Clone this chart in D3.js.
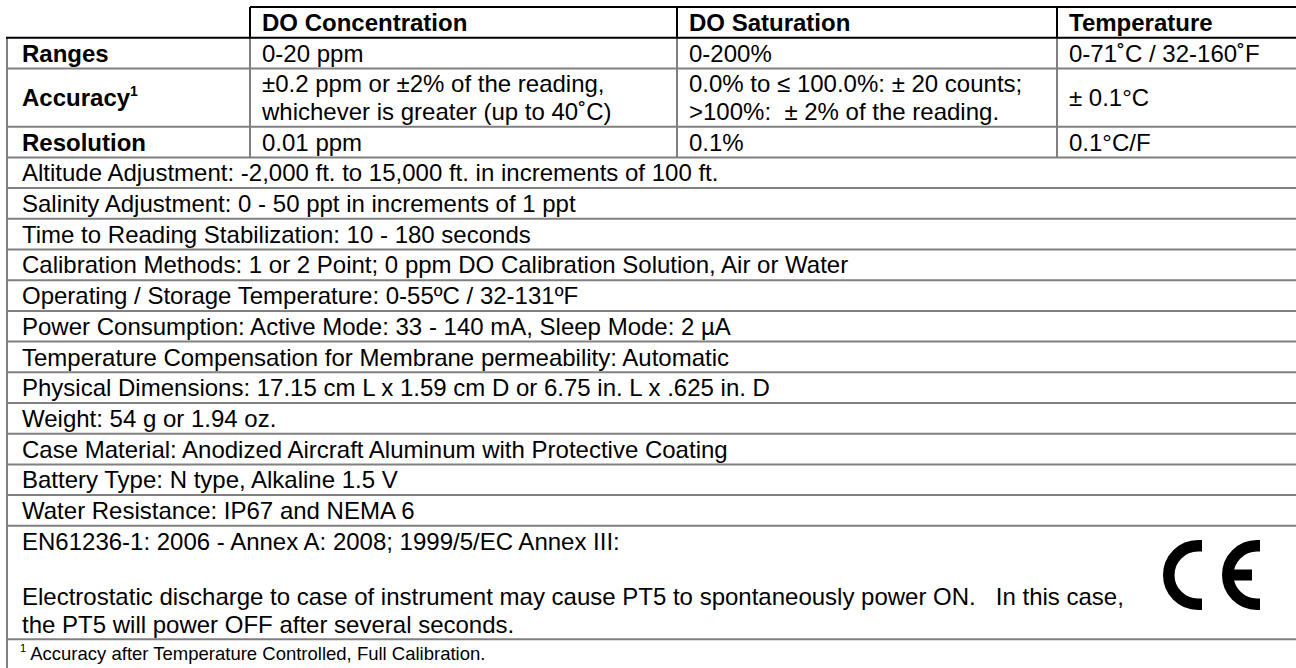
<!DOCTYPE html>
<html>
<head>
<meta charset="utf-8">
<script src="https://cdn.jsdelivr.net/npm/d3@7"></script>
<style>
  html, body { margin: 0; padding: 0; background: #fff; }
  svg { display: block; }
  text { font-family: "Liberation Sans", Arial, Helvetica, sans-serif; fill: #000; white-space: pre; }
</style>
</head>
<body>
<svg id="chart" width="1296" height="668"></svg>
<script>
// ---------- data ----------
const columnHeaders = ["DO Concentration", "DO Saturation", "Temperature"];
const rowLabels = ["Ranges", "Accuracy", "Resolution"];
const concentrationValues = [
  ["0-20 ppm"],
  ["±0.2 ppm or ±2% of the reading,", "whichever is greater (up to 40˚C)"],
  ["0.01 ppm"]
];
const saturationValues = [
  ["0-200%"],
  ["0.0% to ≤ 100.0%: ± 20 counts;", ">100%:  ± 2% of the reading."],
  ["0.1%"]
];
const temperatureValues = [
  ["0-71˚C / 32-160˚F"],
  ["± 0.1°C"],
  ["0.1°C/F"]
];
const specLines = [
  "Altitude Adjustment: -2,000 ft. to 15,000 ft. in increments of 100 ft.",
  "Salinity Adjustment: 0 - 50 ppt in increments of 1 ppt",
  "Time to Reading Stabilization: 10 - 180 seconds",
  "Calibration Methods: 1 or 2 Point; 0 ppm DO Calibration Solution, Air or Water",
  "Operating / Storage Temperature: 0-55ºC / 32-131ºF",
  "Power Consumption: Active Mode: 33 - 140 mA, Sleep Mode: 2 µA",
  "Temperature Compensation for Membrane permeability: Automatic",
  "Physical Dimensions: 17.15 cm L x 1.59 cm D or 6.75 in. L x .625 in. D",
  "Weight: 54 g or 1.94 oz.",
  "Case Material: Anodized Aircraft Aluminum with Protective Coating",
  "Battery Type: N type, Alkaline 1.5 V",
  "Water Resistance: IP67 and NEMA 6"
];
const complianceLines = [
  "EN61236-1: 2006 - Annex A: 2008; 1999/5/EC Annex III:",
  "",
  "Electrostatic discharge to case of instrument may cause PT5 to spontaneously power ON.   In this case,",
  "the PT5 will power OFF after several seconds."
];
const footnoteMark = "1";
const footnoteText = "Accuracy after Temperature Controlled, Full Calibration.";

// ---------- layout ----------
const W = 1296, H = 668;
const svg = d3.select("#chart");
const colEdges = [7, 250, 677, 1057, 1296];
const x = d3.scaleOrdinal().domain(["label", ...columnHeaders]).range(colEdges.slice(0, 4));
const PAD = 12, PAD_FIRST = 15;
const ROW = 30.7, PITCH = 27.6, TOP = 7;
const FS = 24, FS_SMALL = 18.5;
const GRAY = "#808080";

// build row list
const rows = [];
rows.push({type: "header", lines: 1});
rowLabels.forEach((lab, i) => {
  const n = Math.max(concentrationValues[i].length, saturationValues[i].length, temperatureValues[i].length);
  rows.push({type: "spec", label: lab, i, lines: n});
});
specLines.forEach(t => rows.push({type: "full", lines: 1, text: [t]}));
rows.push({type: "compliance", lines: complianceLines.length, text: complianceLines});
rows.push({type: "foot", lines: 1});
let yAcc = TOP;
rows.forEach(r => { r.y0 = yAcc; r.h = ROW + (r.lines - 1) * PITCH; yAcc += r.h; r.y1 = yAcc; });
if (rows[rows.length - 1].y1 < H) rows[rows.length - 1].y1 = H + 2;

const g = svg.append("g");
const header = rows[0];

// text helper
function lines(sel, xpos, yBase, arr, opts = {}) {
  arr.forEach((t, k) => {
    sel.append("text")
      .attr("x", xpos)
      .attr("y", yBase + k * PITCH)
      .attr("font-size", opts.size || FS)
      .attr("font-weight", opts.bold ? "bold" : "normal")
      .text(t);
  });
}
const base = r => r.y0 + ROW / 2 + 8.6;
const midBase = r => (r.y0 + r.y1) / 2 + 8.6;

// header text
columnHeaders.forEach(c => lines(g, x(c) + PAD, base(header), [c], {bold: true}));

// spec rows
rows.filter(r => r.type === "spec").forEach(r => {
  const lbl = g.append("text").attr("x", colEdges[0] + PAD_FIRST).attr("y", midBase(r))
    .attr("font-size", FS).attr("font-weight", "bold").text(r.label);
  if (r.label === "Accuracy") {
    lbl.append("tspan").attr("font-size", 14).attr("dy", -10).text("1");
  }
  [concentrationValues, saturationValues, temperatureValues].forEach((vals, ci) => {
    const v = vals[r.i];
    const yb = v.length === 1 && r.lines > 1 ? midBase(r) : base(r);
    lines(g, x(columnHeaders[ci]) + PAD, yb, v);
  });
});

// full-width rows
rows.filter(r => r.type === "full" || r.type === "compliance").forEach(r => {
  lines(g, colEdges[0] + PAD_FIRST, base(r), r.text);
});

// footnote
const foot = rows[rows.length - 1];
const ft = g.append("text").attr("x", colEdges[0] + PAD_FIRST - 2).attr("y", foot.y0 + 21).attr("font-size", FS_SMALL);
ft.append("tspan").attr("font-size", 11).attr("dy", -8).text(footnoteMark);
ft.append("tspan").attr("dy", 8).text(" " + footnoteText);

// ---------- grid lines ----------
const grid = svg.append("g");
// header lines (black)
grid.append("line").attr("x1", colEdges[1]).attr("x2", W).attr("y1", header.y0).attr("y2", header.y0)
  .attr("stroke", "#000").attr("stroke-width", 2);
[1, 2, 3].forEach(k => grid.append("line").attr("x1", colEdges[k]).attr("x2", colEdges[k])
  .attr("y1", header.y0).attr("y2", header.y1).attr("stroke", "#000").attr("stroke-width", 2));

// body vertical lines (gray)
const specRows = rows.filter(r => r.type === "spec");
grid.append("line").attr("x1", colEdges[0]).attr("x2", colEdges[0])
  .attr("y1", header.y1).attr("y2", H).attr("stroke", GRAY).attr("stroke-width", 2);
[1, 2, 3].forEach(k => grid.append("line").attr("x1", colEdges[k]).attr("x2", colEdges[k])
  .attr("y1", header.y1).attr("y2", specRows[specRows.length - 1].y1).attr("stroke", GRAY).attr("stroke-width", 2));

// body horizontal lines
rows.slice(1).forEach(r => {
  grid.append("line").attr("x1", colEdges[0] - 1).attr("x2", W).attr("y1", r.y1).attr("y2", r.y1)
    .attr("stroke", GRAY).attr("stroke-width", 2);
});
// header bottom (black, drawn last)
grid.append("line").attr("x1", colEdges[0] - 1).attr("x2", W).attr("y1", header.y1).attr("y2", header.y1)
  .attr("stroke", "#000").attr("stroke-width", 2);

// ---------- CE mark ----------
const ce = svg.append("g").attr("fill", "none").attr("stroke", "#000").attr("stroke-width", 11.5);
const cy = 575, R = 29.25;
function cShape(cx, ext) {
  const p = d3.path();
  p.moveTo(cx + ext, cy - R);
  p.lineTo(cx, cy - R);
  p.arc(cx, cy, R, -Math.PI / 2, Math.PI / 2, true);
  p.lineTo(cx + ext, cy + R);
  return p.toString();
}
ce.append("path").attr("d", cShape(1198, 4));
ce.append("path").attr("d", cShape(1257, 3));
ce.append("rect").attr("x", 1228).attr("y", cy - 5.5).attr("width", 24).attr("height", 11)
  .attr("fill", "#000").attr("stroke", "none");
</script>
</body>
</html>
